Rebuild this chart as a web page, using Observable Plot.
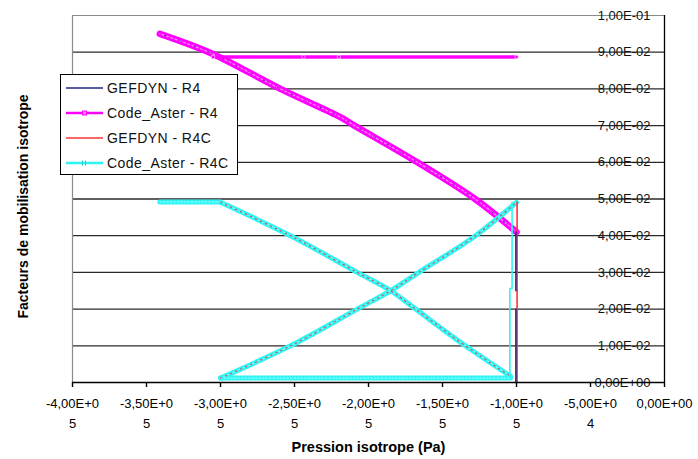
<!DOCTYPE html>
<html>
<head>
<meta charset="utf-8">
<script src="https://cdn.jsdelivr.net/npm/d3@7"></script>
<script src="https://cdn.jsdelivr.net/npm/@observablehq/plot@0.6"></script>
<style>
  html, body { margin: 0; padding: 0; background: #fff; }
  #wrap { position: relative; width: 698px; height: 459px; font-family: "Liberation Sans", Arial, sans-serif; }
  #legend { position: absolute; left: 60px; top: 74px; width: 176px; height: 99px; border: 1px solid #000; background: #fff; }
  #legend .row { position: absolute; left: 0; height: 20px; width: 176px; }
  #legend svg { position: absolute; left: 5px; top: 0; }
  #legend span { position: absolute; left: 46px; top: 1px; font-size: 14px; letter-spacing: 0.45px; color: #111; white-space: nowrap; line-height: 18px; }
</style>
</head>
<body>
<div id="wrap"></div>
<script>
// ---- tick labels ----
const xTicks = [-4e5, -3.5e5, -3e5, -2.5e5, -2e5, -1.5e5, -1e5, -0.5e5, 0];
const xTickLabels = ["-4,00E+0\n5", "-3,50E+0\n5", "-3,00E+0\n5", "-2,50E+0\n5", "-2,00E+0\n5", "-1,50E+0\n5", "-1,00E+0\n5", "-5,00E+0\n4", "0,00E+00"];
const yTicks = [0, 0.01, 0.02, 0.03, 0.04, 0.05, 0.06, 0.07, 0.08, 0.09, 0.1];
const yTickLabels = ["0,00E+00", "1,00E-02", "2,00E-02", "3,00E-02", "4,00E-02", "5,00E-02", "6,00E-02", "7,00E-02", "8,00E-02", "9,00E-02", "1,00E-01"];
const xTitle = "Pression isotrope (Pa)";
const yTitle = "Facteurs de mobilisation isotrope";

// ---- series names / colours ----
const seriesNames = ["GEFDYN - R4", "Code_Aster - R4", "GEFDYN - R4C", "Code_Aster - R4C"];
const seriesColors = ["#262683", "#FF00FF", "#FF3333", "#2EF4F4"];

// ---- R4 ----
const r4CurveP = [-1.00e5, -1.28e5, -1.67e5, -2.095e5, -2.19e5, -2.595e5, -3.056e5, -3.41e5];
const r4CurveF = [0.0410, 0.0500, 0.0600, 0.0700, 0.0723, 0.0800, 0.0896, 0.0950];
const r4FlatP = [-3.05e5, -2.44e5, -2.20e5, -1.00e5];
const r4FlatF = [0.0887, 0.0887, 0.0887, 0.0887];
const gefR4VertP1 = [-1.004e5, -1.004e5];
const gefR4VertF1 = [0.0410, 0.0250];
const gefR4VertP2 = [-1.004e5, -1.004e5];
const gefR4VertF2 = [0.0200, 0.0000];

// ---- R4C ----
const r4cTopP = [-3.41e5, -3.00e5];
const r4cTopF = [0.0492, 0.0492];
const r4cDescP = [-3.00e5, -2.527e5, -2.076e5, -1.85e5, -1.682e5, -1.345e5, -1.04e5];
const r4cDescF = [0.0491, 0.0400, 0.0300, 0.0250, 0.0200, 0.0100, 0.0017];
const r4cBotP = [-3.00e5, -1.04e5];
const r4cBotF = [0.0012, 0.0012];
const r4cAscP = [-3.00e5, -2.527e5, -2.076e5, -1.85e5, -1.66e5, -1.277e5, -1.00e5];
const r4cAscF = [0.0012, 0.0100, 0.0200, 0.0250, 0.0300, 0.0400, 0.0491];
const r4cVertP = [-1.03e5, -1.03e5, -1.045e5, -1.045e5];
const r4cVertF = [0.0491, 0.0256, 0.0256, 0.0015];
const gefR4cVertP = [-0.996e5, -0.996e5];
const gefR4cVertF = [0.0491, 0.0000];

const seg = (id, P, F) => P.map((p, i) => ({id, p, f: F[i]}));

const gefR4Curve = seg("g4c", r4CurveP, r4CurveF);
const gefR4Vert = [...seg("g4v1", gefR4VertP1, gefR4VertF1), ...seg("g4v2", gefR4VertP2, gefR4VertF2)];
const caR4Curve = seg("a4c", r4CurveP, r4CurveF);
const caR4Flat = seg("a4f", r4FlatP, r4FlatF);
const gefR4cDiag = [...seg("g4cd", r4cDescP, r4cDescF), ...seg("g4ca", r4cAscP, r4cAscF)];
const gefR4cVert = seg("g4cv", gefR4cVertP, gefR4cVertF);
const caR4cBand = [...seg("t", r4cTopP, r4cTopF), ...seg("d", r4cDescP, r4cDescF), ...seg("b", r4cBotP, r4cBotF), ...seg("a", r4cAscP, r4cAscF)];
const caR4cVert = seg("v", r4cVertP, r4cVertF);

const xy = {x: "p", y: "f", z: "id"};
const smooth = {curve: "catmull-rom"};

const chart = Plot.plot({
  width: 698,
  height: 459,
  marginLeft: 72,
  marginRight: 34,
  marginTop: 15,
  marginBottom: 77,
  style: {fontFamily: "Liberation Sans, Arial, sans-serif", fontSize: "13px", background: "#fff", color: "#000", overflow: "visible"},
  x: {domain: [-4e5, 0], axis: null},
  y: {domain: [0, 0.1], axis: null},
  marks: [
    Plot.ruleY(yTicks.slice(1, -1), {y: d => d, stroke: "#2a2a2a", strokeWidth: 1.3}),
    Plot.ruleY([yTicks[yTicks.length - 1]], {y: d => d, stroke: "#8a8a8a", strokeWidth: 1.2}),
    Plot.ruleX([xTicks[0]], {x: d => d, stroke: "#8a8a8a", strokeWidth: 1.2}),
    Plot.text(yTicks, {ariaLabel: "ytick", x: () => 0, y: d => d, text: (d, i) => yTickLabels[i], dx: -14, textAnchor: "end", fontSize: 13, fill: "#111"}),
    // GEFDYN - R4
    Plot.line(gefR4Curve, {...xy, ...smooth, stroke: seriesColors[0], strokeWidth: 1.5}),
    // Code_Aster - R4
    Plot.line(caR4Curve, {...xy, ...smooth, stroke: seriesColors[1], strokeWidth: 6.5}),
    Plot.line(caR4Curve, {...xy, ...smooth, stroke: "#ff8cff", strokeWidth: 1.3, strokeDasharray: "2 2.5"}),
    Plot.line(caR4Curve, {...xy, ...smooth, stroke: seriesColors[0], strokeWidth: 1, strokeDasharray: "1.5 14", strokeOpacity: 0.7}),
    Plot.line(caR4Flat, {...xy, stroke: seriesColors[1], strokeWidth: 3.5}),
    Plot.dot(caR4Flat, {x: "p", y: "f", symbol: "square", r: 1.8, stroke: "#ffb0ff", strokeWidth: 0.8, fill: "none"}),
    // Code_Aster - R4C
    Plot.line(caR4cBand, {...xy, ...smooth, stroke: seriesColors[3], strokeWidth: 5}),
    Plot.line(caR4cBand, {...xy, ...smooth, stroke: "#aaffff", strokeWidth: 1, strokeDasharray: "1.5 2"}),
    // GEFDYN - R4C (visible between the Code_Aster markers)
    Plot.line(gefR4cDiag, {...xy, ...smooth, stroke: "#c85050", strokeWidth: 1.1, strokeDasharray: "1.5 4"}),
    Plot.line(caR4cVert, {...xy, stroke: seriesColors[3], strokeWidth: 1.6}),
    Plot.line(gefR4cVert, {...xy, stroke: seriesColors[2], strokeWidth: 1.6}),
    Plot.line(gefR4Vert, {...xy, stroke: seriesColors[0], strokeWidth: 1.6}),
    // axes
    Plot.ruleX([0], {x: d => d, stroke: "#000", strokeWidth: 1.3}),
    Plot.ruleY([0], {y: d => d, stroke: "#000", strokeWidth: 1.3}),
    Plot.tickX(xTicks, {x: d => d, stroke: "#000", strokeWidth: 1.4, transform: (data, facets) => ({data, facets}), render: (index, scales, values, dims, context, next) => {
      const g = next(index, scales, values, dims, context);
      d3.select(g).selectAll("line").attr("y1", dims.height - dims.marginBottom).attr("y2", dims.height - dims.marginBottom + 5);
      return g;
    }}),
    Plot.axisX({ariaLabel: "xaxis", ticks: xTicks, tickSize: 0, tickPadding: 11, tickFormat: d => xTickLabels[xTicks.indexOf(d)], fontSize: 13, lineHeight: 1.54, label: null}),
    Plot.text([xTitle], {ariaLabel: "xtitle", frameAnchor: "bottom", lineAnchor: "middle", dy: 65, fontWeight: "bold", fontSize: 14.5, fill: "#000"}),
    Plot.text([yTitle], {ariaLabel: "ytitle", frameAnchor: "left", textAnchor: "middle", lineAnchor: "middle", dx: -49, dy: 7.5, rotate: -90, fontWeight: "bold", fontSize: 14, fill: "#000"})
  ]
});

d3.select(chart).selectAll('g[aria-label="ytick"] text, g[aria-label="xaxis"] text').style("letter-spacing", "0.8px");
d3.select(chart).selectAll('g[aria-label="xtitle"] text').style("letter-spacing", "0.9px");

const wrap = document.getElementById("wrap");
wrap.appendChild(chart);

// ---- legend ----
const legend = document.createElement("div");
legend.id = "legend";
const rowTops = [3, 28, 53, 78];
const widths = [1.5, 2.5, 1.5, 2.5];
seriesNames.forEach((name, i) => {
  const row = document.createElement("div");
  row.className = "row";
  row.style.top = rowTops[i] + "px";
  const svg = d3.create("svg").attr("width", 40).attr("height", 20);
  svg.append("line").attr("x1", 0).attr("x2", 37).attr("y1", 10).attr("y2", 10)
    .attr("stroke", seriesColors[i]).attr("stroke-width", widths[i]);
  if (i === 1) {
    svg.append("rect").attr("x", 16.5).attr("y", 8).attr("width", 4).attr("height", 4)
      .attr("fill", "#ff80ff").attr("stroke", seriesColors[1]).attr("stroke-width", 1);
  }
  if (i === 3) {
    svg.append("path").attr("d", "M16.5,7.5V12.5M19.5,7.5V12.5").attr("stroke", "#1ccccc").attr("stroke-width", 1);
  }
  row.appendChild(svg.node());
  const span = document.createElement("span");
  span.textContent = name;
  row.appendChild(span);
  legend.appendChild(row);
});
wrap.appendChild(legend);
</script>
</body>
</html>
